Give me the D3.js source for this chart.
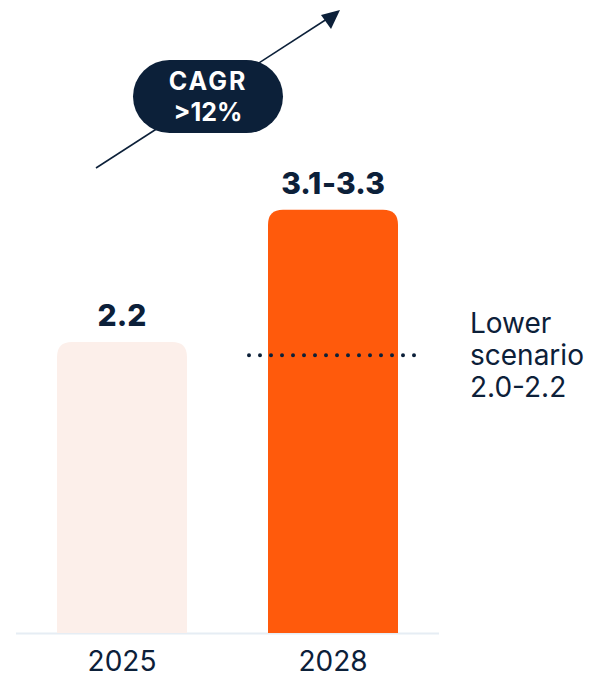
<!DOCTYPE html>
<html>
<head>
<meta charset="utf-8">
<script src="https://cdn.jsdelivr.net/npm/d3@7"></script>
<style>
  html, body { margin: 0; padding: 0; background: #fff; }
  svg { display: block; }
  text { font-family: "Inter", "Open Sans", sans-serif; }
</style>
</head>
<body>
<svg id="chart" width="590" height="677"></svg>
<script>
// Market size by year (bar height uses the midpoint of the stated range)
const years = ["2025", "2028"];
const values = [2.2, 3.2];
const valueLabels = ["2.2", "3.1\u20113.3"];
const barColors = ["#fcefea", "#ff5a0c"];

// Lower scenario marker (midpoint of 2.0–2.2)
const lowerScenarioValue = 2.1;
const lowerScenarioLines = ["Lower", "scenario", "2.0-2.2"];

// Growth badge
const cagrLines = ["CAGR", ">12%"];

const navy = "#0c2039";
const svg = d3.select("#chart");

const baseY = 633;
const y = d3.scaleLinear().domain([0, 2.2]).range([baseY, 342]);
const x = d3.scaleBand().domain(years).range([57, 398])
  .paddingInner(81 / 211).paddingOuter(0);

// growth arrow
svg.append("line")
  .attr("x1", 96).attr("y1", 168).attr("x2", 330).attr("y2", 17)
  .attr("stroke", navy).attr("stroke-width", 1.5);
svg.append("path")
  .attr("d", "M340,10 L321,15 L331,29 Z")
  .attr("fill", navy);

// CAGR badge
const badge = svg.append("g").attr("transform", "translate(208,96.5)");
badge.append("rect")
  .attr("x", -75).attr("y", -36.5).attr("width", 150).attr("height", 73)
  .attr("rx", 36.5).attr("fill", navy);
badge.selectAll("text").data(cagrLines).join("text")
  .attr("x", 0).attr("y", (d, i) => -7 + i * 31)
  .attr("text-anchor", "middle")
  .attr("fill", "#fff").attr("font-weight", 700).attr("font-size", 25)
  .attr("letter-spacing", (d, i) => i === 0 ? 2 : 0)
  .text(d => d);

// baseline
svg.append("line")
  .attr("x1", 16).attr("x2", 439).attr("y1", baseY + 0.5).attr("y2", baseY + 0.5)
  .attr("stroke", "#e6edf4").attr("stroke-width", 2);

// bars with rounded tops
const r = 15;
function topRounded(x0, w, yTop, yBot) {
  return `M${x0},${yBot} V${yTop + r} Q${x0},${yTop} ${x0 + r},${yTop} H${x0 + w - r} Q${x0 + w},${yTop} ${x0 + w},${yTop + r} V${yBot} Z`;
}
svg.selectAll("path.bar").data(years).join("path")
  .attr("class", "bar")
  .attr("d", (d, i) => topRounded(x(d), x.bandwidth(), y(values[i]), baseY))
  .attr("fill", (d, i) => barColors[i]);

// value labels
svg.selectAll("text.val").data(years).join("text")
  .attr("class", "val")
  .attr("x", d => x(d) + x.bandwidth() / 2)
  .attr("y", (d, i) => y(values[i]) - 16)
  .attr("text-anchor", "middle")
  .attr("fill", navy).attr("font-weight", 800).attr("font-size", 30)
  .text((d, i) => valueLabels[i]);

// category labels
svg.selectAll("text.year").data(years).join("text")
  .attr("class", "year")
  .attr("x", d => x(d) + x.bandwidth() / 2)
  .attr("y", 671)
  .attr("text-anchor", "middle")
  .attr("fill", navy).attr("font-size", 28)
  .text(d => d);

// lower scenario dotted line
svg.append("line")
  .attr("x1", 249).attr("x2", 416)
  .attr("y1", y(lowerScenarioValue)).attr("y2", y(lowerScenarioValue))
  .attr("stroke", navy).attr("stroke-width", 4)
  .attr("stroke-linecap", "round").attr("stroke-dasharray", "0 11");

svg.selectAll("text.lower").data(lowerScenarioLines).join("text")
  .attr("class", "lower")
  .attr("x", 470).attr("y", (d, i) => 333 + i * 32)
  .attr("fill", navy).attr("font-size", 28)
  .text(d => d);
</script>
</body>
</html>
